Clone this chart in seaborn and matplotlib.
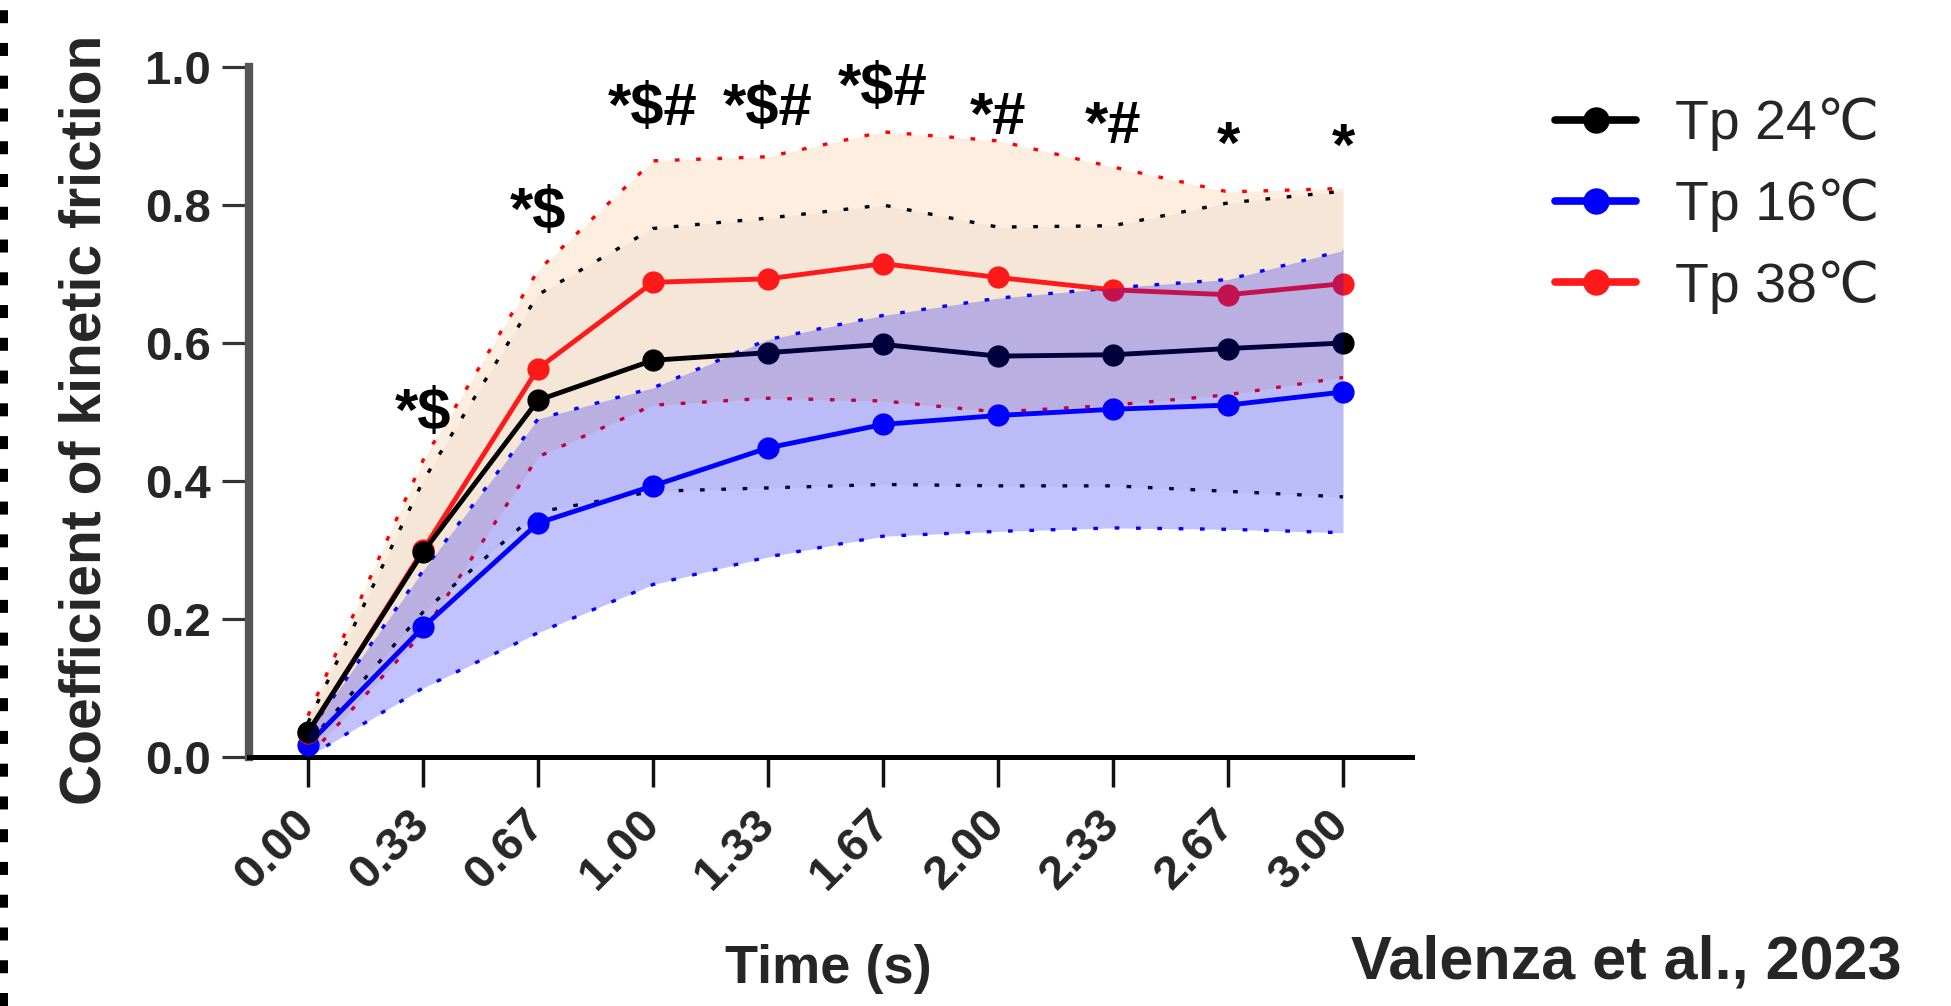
import numpy as np
import pandas as pd
import matplotlib
matplotlib.use("Agg")
import matplotlib.pyplot as plt
import seaborn as sns
from matplotlib import font_manager as fm
from matplotlib.lines import Line2D

# ---------------- data ----------------
times = ["0.00", "0.33", "0.67", "1.00", "1.33", "1.67", "2.00", "2.33", "2.67", "3.00"]
yticks = [0.0, 0.2, 0.4, 0.6, 0.8, 1.0]
ytick_labels = ["0.0", "0.2", "0.4", "0.6", "0.8", "1.0"]

tp24_mean = [0.036, 0.297, 0.517, 0.575, 0.586, 0.598, 0.581, 0.583, 0.592, 0.600]
tp24_upper = [0.050, 0.400, 0.670, 0.766, 0.781, 0.800, 0.768, 0.770, 0.803, 0.820]
tp24_lower = [0.020, 0.210, 0.355, 0.385, 0.390, 0.395, 0.393, 0.393, 0.385, 0.377]

tp16_mean = [0.018, 0.188, 0.339, 0.393, 0.448, 0.482, 0.495, 0.504, 0.510, 0.529]
tp16_upper = [0.035, 0.270, 0.490, 0.535, 0.605, 0.640, 0.665, 0.680, 0.692, 0.734]
tp16_lower = [0.000, 0.100, 0.180, 0.250, 0.290, 0.320, 0.327, 0.332, 0.330, 0.325]

tp38_mean = [0.035, 0.300, 0.563, 0.688, 0.693, 0.715, 0.695, 0.677, 0.670, 0.686]
tp38_upper = [0.060, 0.430, 0.705, 0.864, 0.870, 0.906, 0.893, 0.855, 0.819, 0.824]
tp38_lower = [0.000, 0.180, 0.435, 0.510, 0.520, 0.516, 0.500, 0.510, 0.525, 0.550]

sig_labels = ["", "*$", "*$", "*$#", "*$#", "*$#", "*#", "*#", "*", "*"]
sig_y = [0.0, 0.497, 0.787, 0.938, 0.938, 0.967, 0.926, 0.912, 0.883, 0.880]

labels = ["Tp 24\u2103", "Tp 16\u2103", "Tp 38\u2103"]
colors = {"Tp 24\u2103": "#000000", "Tp 16\u2103": "#0000ff", "Tp 38\u2103": "#ff1a1a"}

# ---------------- style ----------------
sns.set_style("ticks")
plt.rcParams["font.family"] = ["Liberation Sans", "DejaVu Sans"]
avail = {f.name for f in fm.fontManager.ttflist}
has_narrow = "Liberation Sans Narrow" in avail

fig = plt.figure(figsize=(19.51, 10.06), dpi=100)
ax = fig.add_axes([0.12763, 0.24751, 0.59611, 0.68588])

pos = np.arange(len(times))
df = pd.DataFrame({
    "pos": list(pos) * 3,
    "time": times * 3,
    "cof": tp24_mean + tp16_mean + tp38_mean,
    "group": [labels[0]] * len(times) + [labels[1]] * len(times) + [labels[2]] * len(times),
})

# bands
ax.fill_between(pos, tp38_lower, tp38_upper, color="#fdeee0", lw=0, zorder=1)
ax.fill_between(pos, tp24_lower, tp24_upper, color="black", alpha=0.03, lw=0, zorder=1.2)

dot = (0, (1.4, 5.0))
for up, lo, c in [(tp38_upper, tp38_lower, "#ff0000"),
                  (tp24_upper, tp24_lower, "#000000"),
                  (tp16_upper, tp16_lower, "#0000ff")]:
    ax.plot(pos, up, color=c, lw=2.4, linestyle=dot, zorder=2)
    ax.plot(pos, lo, color=c, lw=2.4, linestyle=dot, zorder=2)

# mean lines (draw order: 16, 38, 24 on top)
for g, z in [(labels[1], 3.0), (labels[2], 3.1), (labels[0], 3.2)]:
    sns.lineplot(data=df[df["group"] == g], x="pos", y="cof", color=colors[g],
                 marker="o", markersize=16, markeredgewidth=0, linewidth=3.5,
                 errorbar=None, label=g, ax=ax, zorder=z)

ax.fill_between(pos, tp16_lower, tp16_upper, color="#0000ff", alpha=0.24, lw=0, zorder=4)

# significance marks
for i, (s, yv) in enumerate(zip(sig_labels, sig_y)):
    if s:
        ax.text(pos[i], yv, s, ha="center", va="center", fontsize=43,
                fontweight="bold", color="black", zorder=5)

# axes
ax.set_xlim(-0.513, 9.6)
ax.set_ylim(0, 1.0)
ax.set_xticks(pos)
ax.set_xticklabels(times, rotation=45, ha="right", va="center",
                   rotation_mode="anchor", fontsize=34, fontweight="bold")
ax.set_yticks(yticks)
ax.set_yticklabels(ytick_labels, fontsize=34, fontweight="bold")
ax.tick_params(axis="x", length=21.6, width=2.5, pad=22, color="#111111")
ax.tick_params(axis="y", length=19.5, width=2.3, pad=8, color="#333333")
for sp in ["top", "right"]:
    ax.spines[sp].set_visible(False)
ax.spines["left"].set_linewidth(6)
ax.spines["left"].set_color("#555555")
ax.spines["bottom"].set_linewidth(3.6)
ax.spines["bottom"].set_color("black")

ax.set_ylabel("Coefficient of kinetic friction", fontsize=41, fontweight="bold")
ax.yaxis.set_label_coords(-0.141, 0.488)
ax.yaxis.label.set_va("center")
ax.set_xlabel("Time (s)", fontsize=39, fontweight="bold")
ax.xaxis.set_label_coords(0.498, -0.328)
ax.xaxis.label.set_va("baseline")

# legend
h, l = ax.get_legend_handles_labels()
order = [l.index(lab) for lab in labels]
if ax.get_legend() is not None:
    ax.get_legend().remove()
leg = ax.legend([h[k] for k in order], [l[k] for k in order], loc="center left",
                bbox_to_anchor=(1555 / 1951, 1 - 205.5 / 1006), bbox_transform=fig.transFigure,
                frameon=False, fontsize=40, handlelength=1.46, handletextpad=0.7,
                labelspacing=0.5, borderpad=0, borderaxespad=0)
for lh in leg.legend_handles:
    lh.set_linewidth(5.5)
    lh.set_markersize(19)

# citation
if has_narrow:
    fig.text(1626 / 1951, 1 - 978 / 1006, "Valenza et al., 2023",
             family=["Liberation Sans Narrow", "DejaVu Sans"], fontweight="bold",
             fontsize=53, ha="center", va="baseline")
else:
    fig.text(1626 / 1951, 1 - 978 / 1006, "Valenza et al., 2023",
             fontweight="bold", fontsize=44, ha="center", va="baseline")

# dotted border on the left edge
fig.add_artist(Line2D([4 / 1951, 4 / 1951], [0, 1], transform=fig.transFigure,
                      color="black", lw=5.76, dashes=(1.625, 2.47),
                      dash_capstyle="butt", solid_capstyle="butt"))

fig.savefig("out.png", dpi=100, facecolor="white")
